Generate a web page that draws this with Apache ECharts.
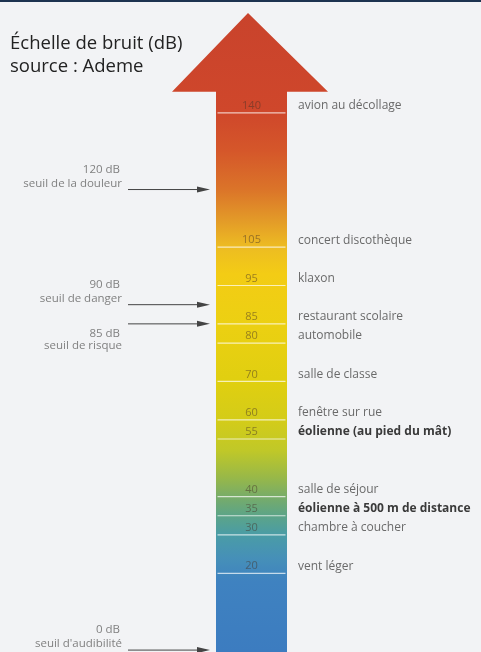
<!DOCTYPE html>
<html>
<head>
<meta charset="utf-8">
<script src="https://cdn.jsdelivr.net/npm/echarts@6/dist/echarts.min.js"></script>
<style>
html, body { margin: 0; padding: 0; background: #f2f3f5; }
#container { width: 481px; height: 652px; }
</style>
</head>
<body>
<div id="container"></div>
<script>
// niveaux sonores (dB) et sources
var levels = [140, 105, 95, 85, 80, 70, 60, 55, 40, 35, 30, 20];
var sources = ['avion au décollage', 'concert discothèque', 'klaxon', 'restaurant scolaire',
    'automobile', 'salle de classe', 'fenêtre sur rue', 'éolienne (au pied du mât)',
    'salle de séjour', 'éolienne à 500 m de distance', 'chambre à coucher', 'vent léger'];
var strongSources = ['éolienne (au pied du mât)', 'éolienne à 500 m de distance'];

// seuils
var seuils = [120, 90, 85, 0];
var seuilNames = ['seuil de la douleur', 'seuil de danger', 'seuil de risque', "seuil d'audibilité"];

// la flèche : bas, base de la pointe, pointe (dB)
var arrowDb = [-0.5, 145.5, 166];

// dégradé de couleur le long de la flèche
var gradDb = [166, 140, 130, 120, 112, 105, 98, 85, 70, 60, 52, 45, 40, 35, 30, 24, 18, -0.5];
var gradColors = ['#c9432c', '#cf472b', '#d5572a', '#db7429', '#e39a28', '#edbc22', '#f3cc15',
    '#ecd012', '#e0cf10', '#d4cc18', '#c0c828', '#98b848', '#78ac68', '#5ca488', '#4a9ca6',
    '#4690b8', '#3f82c0', '#3c7cc0'];

var FONT = 'Open Sans';
var myChart = echarts.init(document.getElementById('container'));

var stops = gradDb.map(function (v, i) {
    return { offset: (arrowDb[2] - v) / (arrowDb[2] - arrowDb[0]), color: gradColors[i] };
});

var option = {
    backgroundColor: '#f2f3f5',
    animation: false,
    title: {
        text: 'Échelle de bruit (dB)\nsource : Ademe',
        left: 10,
        top: 32,
        padding: 0,
        textStyle: { fontFamily: FONT, fontSize: 18.5, lineHeight: 23, fontWeight: 'normal', color: '#222' }
    },
    graphic: [
        { type: 'rect', left: 0, top: 0, shape: { width: 481, height: 2 }, style: { fill: '#1d3350' } }
    ],
    grid: { left: 0, right: 0, top: 13, bottom: 0 },
    xAxis: { type: 'value', min: 0, max: 481, show: false },
    yAxis: { type: 'value', min: arrowDb[0], max: arrowDb[2], show: false },
    series: [
        {
            // la flèche
            type: 'custom',
            silent: true,
            data: [arrowDb],
            renderItem: function (params, api) {
                var cx = api.coord([251.5, 0])[0];
                var hx = api.coord([250, 0])[0];
                var yb = api.coord([0, api.value(0)])[1];
                var yn = api.coord([0, api.value(1)])[1];
                var yt = api.coord([0, api.value(2)])[1];
                var sw = 35.5, hw = 78;
                return {
                    type: 'polygon',
                    shape: {
                        points: [[cx - sw, yb], [cx - sw, yn], [hx - hw, yn], [hx - 2, yt],
                            [hx + hw, yn], [cx + sw, yn], [cx + sw, yb]]
                    },
                    style: { fill: new echarts.graphic.LinearGradient(0, 0, 0, 1, stops) }
                };
            }
        },
        {
            // graduations et sources
            type: 'custom',
            silent: true,
            data: levels.map(function (v, i) { return [251.5, v, i]; }),
            renderItem: function (params, api) {
                var p = api.coord([api.value(0), api.value(1)]);
                var name = sources[api.value(2)];
                var strong = strongSources.indexOf(name) >= 0;
                return {
                    type: 'group',
                    children: [
                        {
                            type: 'line',
                            shape: { x1: p[0] - 34, y1: p[1], x2: p[0] + 34, y2: p[1] },
                            style: { stroke: 'rgba(255,255,255,0.7)', lineWidth: 1.2 }
                        },
                        {
                            type: 'text',
                            x: p[0], y: p[1] - 7,
                            style: {
                                text: String(api.value(1)), align: 'center', verticalAlign: 'middle',
                                fontFamily: FONT, fontSize: 11, fill: 'rgba(70,50,40,0.5)'
                            }
                        },
                        {
                            type: 'text',
                            x: 298, y: p[1] - 7,
                            style: {
                                text: name, align: 'left', verticalAlign: 'middle',
                                fontFamily: FONT, fontSize: 12,
                                fontWeight: strong ? 'bold' : 'normal',
                                fill: strong ? '#3a3a3a' : '#6a6a6a'
                            }
                        }
                    ]
                };
            }
        },
        {
            // seuils à gauche
            type: 'custom',
            silent: true,
            data: seuils.map(function (v, i) { return [128, v, i]; }),
            renderItem: function (params, api) {
                var p = api.coord([api.value(0), api.value(1)]);
                var i = api.value(2);
                var below = seuilNames[i] === 'seuil de risque';
                var y1 = below ? p[1] + 10 : p[1] - 20;
                var y2 = below ? p[1] + 22 : p[1] - 6;
                return {
                    type: 'group',
                    children: [
                        {
                            type: 'line',
                            shape: { x1: p[0], y1: p[1], x2: 200, y2: p[1] },
                            style: { stroke: '#444', lineWidth: 1 }
                        },
                        {
                            type: 'polygon',
                            shape: { points: [[197, p[1] - 3], [210, p[1]], [197, p[1] + 3]] },
                            style: { fill: '#444' }
                        },
                        {
                            type: 'text',
                            x: 120, y: y1,
                            style: {
                                text: seuils[i] + ' dB', align: 'right', verticalAlign: 'middle',
                                fontFamily: FONT, fontSize: 11.5, fill: '#808080'
                            }
                        },
                        {
                            type: 'text',
                            x: 122, y: y2,
                            style: {
                                text: seuilNames[i], align: 'right', verticalAlign: 'middle',
                                fontFamily: FONT, fontSize: 11.5, fill: '#808080'
                            }
                        }
                    ]
                };
            }
        }
    ]
};
myChart.setOption(option);
</script>
</body>
</html>
